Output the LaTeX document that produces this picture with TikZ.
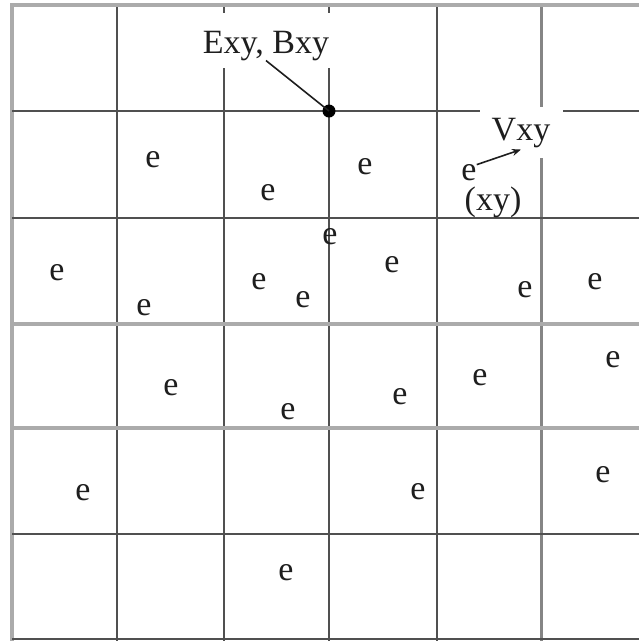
\documentclass[tikz,border=0pt]{standalone}
\usepackage{fontspec}
\setmainfont{Liberation Serif}
\usetikzlibrary{arrows.meta}
\definecolor{gridd}{HTML}{505050}
\definecolor{gridl}{HTML}{ABABAB}
\definecolor{gridm}{HTML}{858585}
\definecolor{ink}{HTML}{1E1E1E}
\begin{document}
\begin{tikzpicture}[x=1pt,y=-1pt,
  darkline/.style={draw=gridd,line width=2.6pt},
  lightline/.style={draw=gridl,line width=4pt},
  midline/.style={draw=gridm,line width=3pt},
  lbl/.style={inner sep=0pt,text=ink,font=\fontsize{34pt}{40pt}\selectfont},
  particle/.style={lbl},
  leader/.style={draw=ink,line width=1.6pt}]
\useasboundingbox (0,0) rectangle (639,641);
\fill[white] (0,0) rectangle (639,641);
% vertical grid lines
\draw[lightline] (12,5) -- (12,641);
\draw[darkline] (117,5) -- (117,641);
\draw[darkline] (224,5) -- (224,13);
\draw[darkline] (224,68) -- (224,641);
\draw[darkline] (329,5) -- (329,13);
\draw[darkline] (329,68) -- (329,641);
\draw[darkline] (437,5) -- (437,641);
\draw[midline] (541,5) -- (541,107);
\draw[midline] (541,158) -- (541,641);
% horizontal grid lines
\draw[lightline] (10,5) -- (639,5);
\draw[darkline] (12,111) -- (480,111);
\draw[darkline] (563,111) -- (639,111);
\draw[darkline] (12,218) -- (639,218);
\draw[lightline] (12,324) -- (639,324);
\draw[lightline] (12,428) -- (639,428);
\draw[darkline] (12,534) -- (639,534);
\draw[darkline] (12,639) -- (639,639);
% field point
\node[circle,fill=black,minimum size=13pt,inner sep=0pt] (dot) at (329,111) {};
\node[lbl,anchor=base] (EB) at (266,53) {Exy, Bxy};
\draw[leader] (EB.south) -- (dot.center);
% particle with velocity
\node[lbl,anchor=base] (V) at (521,140) {Vxy};
\node[particle] (eV) at (469,173) {e};
\node[lbl] (xy) at (493,202) {(xy)};
\draw[leader,-{Stealth[length=9pt,width=7pt]}] (eV.north east) -- ([yshift=-2pt]V.south);
% particles
\node[particle] (e1) at (153,160) {e};
\node[particle] (e2) at (268,193) {e};
\node[particle] (e3) at (365,167) {e};
\node[particle] (e4) at (57,273) {e};
\node[particle] (e5) at (144,308) {e};
\node[particle] (e6) at (259,282) {e};
\node[particle] (e7) at (303,300) {e};
\node[particle] (e8) at (330,237) {e};
\node[particle] (e9) at (392,265) {e};
\node[particle] (e10) at (525,290) {e};
\node[particle] (e11) at (595,282) {e};
\node[particle] (e12) at (171,388) {e};
\node[particle] (e13) at (288,412) {e};
\node[particle] (e14) at (400,397) {e};
\node[particle] (e15) at (480,378) {e};
\node[particle] (e16) at (613,360) {e};
\node[particle] (e17) at (83,493) {e};
\node[particle] (e18) at (418,492) {e};
\node[particle] (e19) at (603,475) {e};
\node[particle] (e20) at (286,573) {e};
\end{tikzpicture}
\end{document}
